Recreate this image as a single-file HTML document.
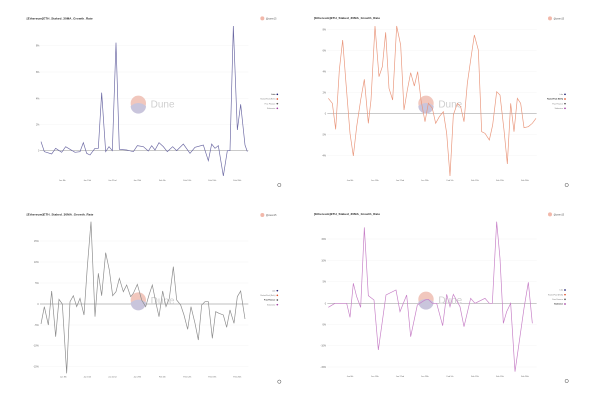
<!DOCTYPE html>
<html><head><meta charset="utf-8"><style>
html,body{margin:0;padding:0;background:#fff;}
svg{display:block;font-family:"Liberation Sans",sans-serif;}
</style></head><body>
<svg width="600" height="400" viewBox="0 0 600 400" xmlns="http://www.w3.org/2000/svg">
<rect width="600" height="400" fill="#fff"/>

<!-- Panel 1 -->
<g transform="scale(0.33333)">
  <text x="80" y="58" font-size="9" font-weight="bold" fill="#222" textLength="198">[Ethereum]ETH_Staked_30MA_Growth_Rate</text>
  <circle cx="787" cy="55" r="6" fill="#f2b8aa"/><text x="798" y="58" font-size="7" fill="#555">@cwen15</text>
  <g stroke="#eee" stroke-width="1">
    <line x1="120" y1="137" x2="745" y2="137"/><line x1="120" y1="216" x2="745" y2="216"/>
    <line x1="120" y1="295" x2="745" y2="295"/><line x1="120" y1="373" x2="745" y2="373"/>
  </g>
  <g font-size="7" fill="#666" text-anchor="end">
    <text x="118" y="140">8%</text><text x="118" y="219">6%</text><text x="118" y="298">4%</text><text x="118" y="376">2%</text><text x="118" y="455">0</text>
  </g>
  <line x1="120" y1="452" x2="745" y2="452" stroke="#aaa" stroke-width="2"/>
  <circle cx="415" cy="310" r="23" fill="#f1c7bd"/><path d="M392 318 Q415 300 438 318 A23 23 0 0 1 392 318Z" fill="#c9c5dc"/>
  <text x="452" y="322" font-size="30" fill="#cfcfcf">Dune</text>
  <polyline fill="none" stroke="#6b68a3" stroke-width="2" points="123,425 133,455 155,462 167,445 185,457 197,440 225,457 240,455 250,428 260,460 270,465 285,445 295,445 305,278 317,455 327,440 337,452 348,128 358,448 380,450 400,455 412,437 430,440 445,453 455,437 465,450 477,428 490,440 502,455 518,440 530,452 550,432 570,460 585,442 610,435 625,482 635,432 645,445 655,437 670,528 682,452 690,452 700,78 712,390 722,313 735,435 742,455"/>
  <g font-size="6" fill="#666" text-anchor="middle">
    <text x="187" y="543">Jan 8th</text><text x="262" y="543">Jan 15th</text><text x="337" y="543">Jan 22nd</text><text x="412" y="543">Jan 29th</text><text x="487" y="543">Feb 5th</text><text x="562" y="543">Feb 12th</text><text x="637" y="543">Feb 19th</text><text x="712" y="543">Feb 26th</text>
  </g>
  <g font-size="5.5" fill="#777" text-anchor="end">
    <text x="826" y="285" fill="#222" font-weight="bold">Lido</text><text x="826" y="299">RocketPool (Reth)</text><text x="826" y="313">Frax Finance</text><text x="826" y="327">Stakewise</text>
  </g>
  <circle cx="832" cy="283" r="2.5" fill="#1a1a6e"/><circle cx="832" cy="297" r="2.5" fill="#e0502a"/><circle cx="832" cy="311" r="2.5" fill="#555"/><circle cx="832" cy="325" r="2.5" fill="#a03ca0"/>
  <circle cx="838" cy="555" r="5" fill="none" stroke="#444" stroke-width="1.5"/>
</g>

<!-- Panel 2 -->
<g transform="translate(300,0) scale(0.33333)">
  <text x="42" y="57" font-size="9" font-weight="bold" fill="#222" textLength="198">[Ethereum]ETH_Staked_30MA_Growth_Rate</text>
  <circle cx="750" cy="55" r="6" fill="#f2b8aa"/><text x="761" y="58" font-size="7" fill="#555">@cwen15</text>
  <g stroke="#eee" stroke-width="1">
    <line x1="82" y1="88" x2="710" y2="88"/><line x1="82" y1="152" x2="710" y2="152"/><line x1="82" y1="215" x2="710" y2="215"/>
    <line x1="82" y1="278" x2="710" y2="278"/><line x1="82" y1="403" x2="710" y2="403"/><line x1="82" y1="466" x2="710" y2="466"/>
  </g>
  <g font-size="7" fill="#666" text-anchor="end">
    <text x="78" y="91">8%</text><text x="78" y="155">6%</text><text x="78" y="218">4%</text><text x="78" y="281">2%</text><text x="78" y="343">0</text><text x="78" y="406">-2%</text><text x="78" y="469">-4%</text>
  </g>
  <line x1="82" y1="340" x2="710" y2="340" stroke="#aaa" stroke-width="2"/>
  <circle cx="378" cy="310" r="23" fill="#f1c7bd"/><path d="M355 318 Q378 300 401 318 A23 23 0 0 1 355 318Z" fill="#c9c5dc"/>
  <text x="415" y="322" font-size="30" fill="#cfcfcf">Dune</text>
  <polyline fill="none" stroke="#e9957a" stroke-width="2" points="85,295 97,310 107,388 118,210 128,120 138,250 150,400 160,468 170,380 182,300 193,238 205,370 213,300 225,78 237,230 247,200 257,97 267,265 278,300 290,78 302,135 312,330 322,270 332,218 343,258 353,215 363,300 375,365 385,310 397,325 407,370 418,350 430,335 440,400 450,528 460,345 472,310 482,320 492,365 502,250 512,180 523,105 535,150 545,395 555,400 568,420 578,375 590,275 600,285 612,390 622,492 632,310 642,395 652,295 662,310 672,383 685,380 697,370 708,355"/>
  <g font-size="6" fill="#666" text-anchor="middle">
    <text x="150" y="543">Jan 8th</text><text x="225" y="543">Jan 15th</text><text x="300" y="543">Jan 22nd</text><text x="375" y="543">Jan 29th</text><text x="450" y="543">Feb 5th</text><text x="525" y="543">Feb 12th</text><text x="600" y="543">Feb 19th</text><text x="675" y="543">Feb 26th</text>
  </g>
  <g font-size="5.5" fill="#777" text-anchor="end">
    <text x="789" y="285">Lido</text><text x="789" y="299" fill="#222" font-weight="bold">RocketPool (Reth)</text><text x="789" y="313">Frax Finance</text><text x="789" y="327">Stakewise</text>
  </g>
  <circle cx="795" cy="283" r="2.5" fill="#1a1a6e"/><circle cx="795" cy="297" r="2.5" fill="#e0502a"/><circle cx="795" cy="311" r="2.5" fill="#555"/><circle cx="795" cy="325" r="2.5" fill="#a03ca0"/>
  <circle cx="800" cy="555" r="5" fill="none" stroke="#444" stroke-width="1.5"/>
</g>

<!-- Panel 3 -->
<g transform="translate(0,200) scale(0.33333)">
  <text x="80" y="47" font-size="9" font-weight="bold" fill="#222" textLength="200">[Ethereum]ETH_Staked_30MA_Growth_Rate</text>
  <circle cx="787" cy="45" r="6" fill="#f2b8aa"/><text x="798" y="48" font-size="7" fill="#555">@cwen15</text>
  <g stroke="#eee" stroke-width="1">
    <line x1="120" y1="123" x2="745" y2="123"/><line x1="120" y1="186" x2="745" y2="186"/><line x1="120" y1="249" x2="745" y2="249"/>
    <line x1="120" y1="375" x2="745" y2="375"/><line x1="120" y1="437" x2="745" y2="437"/><line x1="120" y1="500" x2="745" y2="500"/>
  </g>
  <g font-size="7" fill="#666" text-anchor="end">
    <text x="116" y="126">15%</text><text x="116" y="189">10%</text><text x="116" y="252">5%</text><text x="116" y="315">0</text><text x="116" y="378">-5%</text><text x="116" y="440">-10%</text><text x="116" y="503">-15%</text>
  </g>
  <line x1="120" y1="312" x2="745" y2="312" stroke="#aaa" stroke-width="2"/>
  <circle cx="415" cy="300" r="23" fill="#f1c7bd"/><path d="M392 308 Q415 290 438 308 A23 23 0 0 1 392 308Z" fill="#c9c5dc"/>
  <text x="452" y="312" font-size="30" fill="#cfcfcf">Dune</text>
  <polyline fill="none" stroke="#8a8a8a" stroke-width="2" points="123,372 133,320 145,375 155,273 167,410 177,298 187,312 200,520 210,305 220,287 230,320 240,295 252,345 262,200 273,65 285,350 295,220 305,287 317,158 328,210 338,287 348,275 358,235 370,275 380,255 392,290 400,280 412,253 425,300 437,320 447,285 457,255 467,305 477,350 488,273 498,320 508,295 520,200 530,300 542,315 552,345 563,388 573,320 585,370 595,420 605,315 615,305 625,305 637,415 647,335 657,340 670,345 680,382 690,330 702,370 712,290 722,273 735,357"/>
  <g font-size="6" fill="#666" text-anchor="middle">
    <text x="190" y="533">Jan 8th</text><text x="262" y="533">Jan 15th</text><text x="337" y="533">Jan 22nd</text><text x="412" y="533">Jan 29th</text><text x="487" y="533">Feb 5th</text><text x="562" y="533">Feb 12th</text><text x="637" y="533">Feb 19th</text><text x="712" y="533">Feb 26th</text>
  </g>
  <g font-size="5.5" fill="#777" text-anchor="end">
    <text x="826" y="274">Lido</text><text x="826" y="288">RocketPool (Reth)</text><text x="826" y="302" fill="#222" font-weight="bold">Frax Finance</text><text x="826" y="316">Stakewise</text>
  </g>
  <circle cx="832" cy="272" r="2.5" fill="#1a1a6e"/><circle cx="832" cy="286" r="2.5" fill="#e0502a"/><circle cx="832" cy="300" r="2.5" fill="#555"/><circle cx="832" cy="314" r="2.5" fill="#a03ca0"/>
  <circle cx="838" cy="545" r="5" fill="none" stroke="#444" stroke-width="1.5"/>
</g>

<!-- Panel 4 -->
<g transform="translate(300,200) scale(0.33333)">
  <text x="42" y="45" font-size="9" font-weight="bold" fill="#222" textLength="198">[Ethereum]ETH_Staked_30MA_Growth_Rate</text>
  <circle cx="750" cy="43" r="6" fill="#f2b8aa"/><text x="761" y="46" font-size="7" fill="#555">@cwen15</text>
  <g stroke="#eee" stroke-width="1">
    <line x1="82" y1="117" x2="710" y2="117"/><line x1="82" y1="181" x2="710" y2="181"/><line x1="82" y1="245" x2="710" y2="245"/>
    <line x1="82" y1="373" x2="710" y2="373"/><line x1="82" y1="437" x2="710" y2="437"/><line x1="82" y1="501" x2="710" y2="501"/>
  </g>
  <g font-size="7" fill="#666" text-anchor="end">
    <text x="78" y="120">15%</text><text x="78" y="184">10%</text><text x="78" y="248">5%</text><text x="78" y="313">0</text><text x="78" y="376">-5%</text><text x="78" y="440">-10%</text><text x="78" y="504">-15%</text>
  </g>
  <line x1="82" y1="310" x2="710" y2="310" stroke="#aaa" stroke-width="2"/>
  <circle cx="378" cy="298" r="23" fill="#f1c7bd"/><path d="M355 306 Q378 288 401 306 A23 23 0 0 1 355 306Z" fill="#c9c5dc"/>
  <text x="415" y="310" font-size="30" fill="#cfcfcf">Dune</text>
  <polyline fill="none" stroke="#c67ec6" stroke-width="2" points="85,322 105,310 140,310 150,352 160,250 170,290 182,322 193,82 205,287 222,300 235,450 258,285 288,270 300,335 320,285 332,410 352,315 375,300 385,298 397,310 410,310 428,377 440,283 450,320 460,283 480,320 492,380 512,295 525,310 555,295 568,310 577,310 590,65 600,175 610,370 620,335 632,310 645,515 672,325 685,247 697,370"/>
  <g font-size="6" fill="#666" text-anchor="middle">
    <text x="150" y="531">Jan 8th</text><text x="225" y="531">Jan 15th</text><text x="300" y="531">Jan 22nd</text><text x="375" y="531">Jan 29th</text><text x="450" y="531">Feb 5th</text><text x="525" y="531">Feb 12th</text><text x="600" y="531">Feb 19th</text><text x="675" y="531">Feb 26th</text>
  </g>
  <g font-size="5.5" fill="#777" text-anchor="end">
    <text x="789" y="272">Lido</text><text x="789" y="286">RocketPool (Reth)</text><text x="789" y="300">Frax Finance</text><text x="789" y="314" fill="#222" font-weight="bold">Stakewise</text>
  </g>
  <circle cx="795" cy="270" r="2.5" fill="#1a1a6e"/><circle cx="795" cy="284" r="2.5" fill="#e0502a"/><circle cx="795" cy="298" r="2.5" fill="#555"/><circle cx="795" cy="312" r="2.5" fill="#a03ca0"/>
  <circle cx="800" cy="543" r="5" fill="none" stroke="#444" stroke-width="1.5"/>
</g>
</svg>
</body></html>
